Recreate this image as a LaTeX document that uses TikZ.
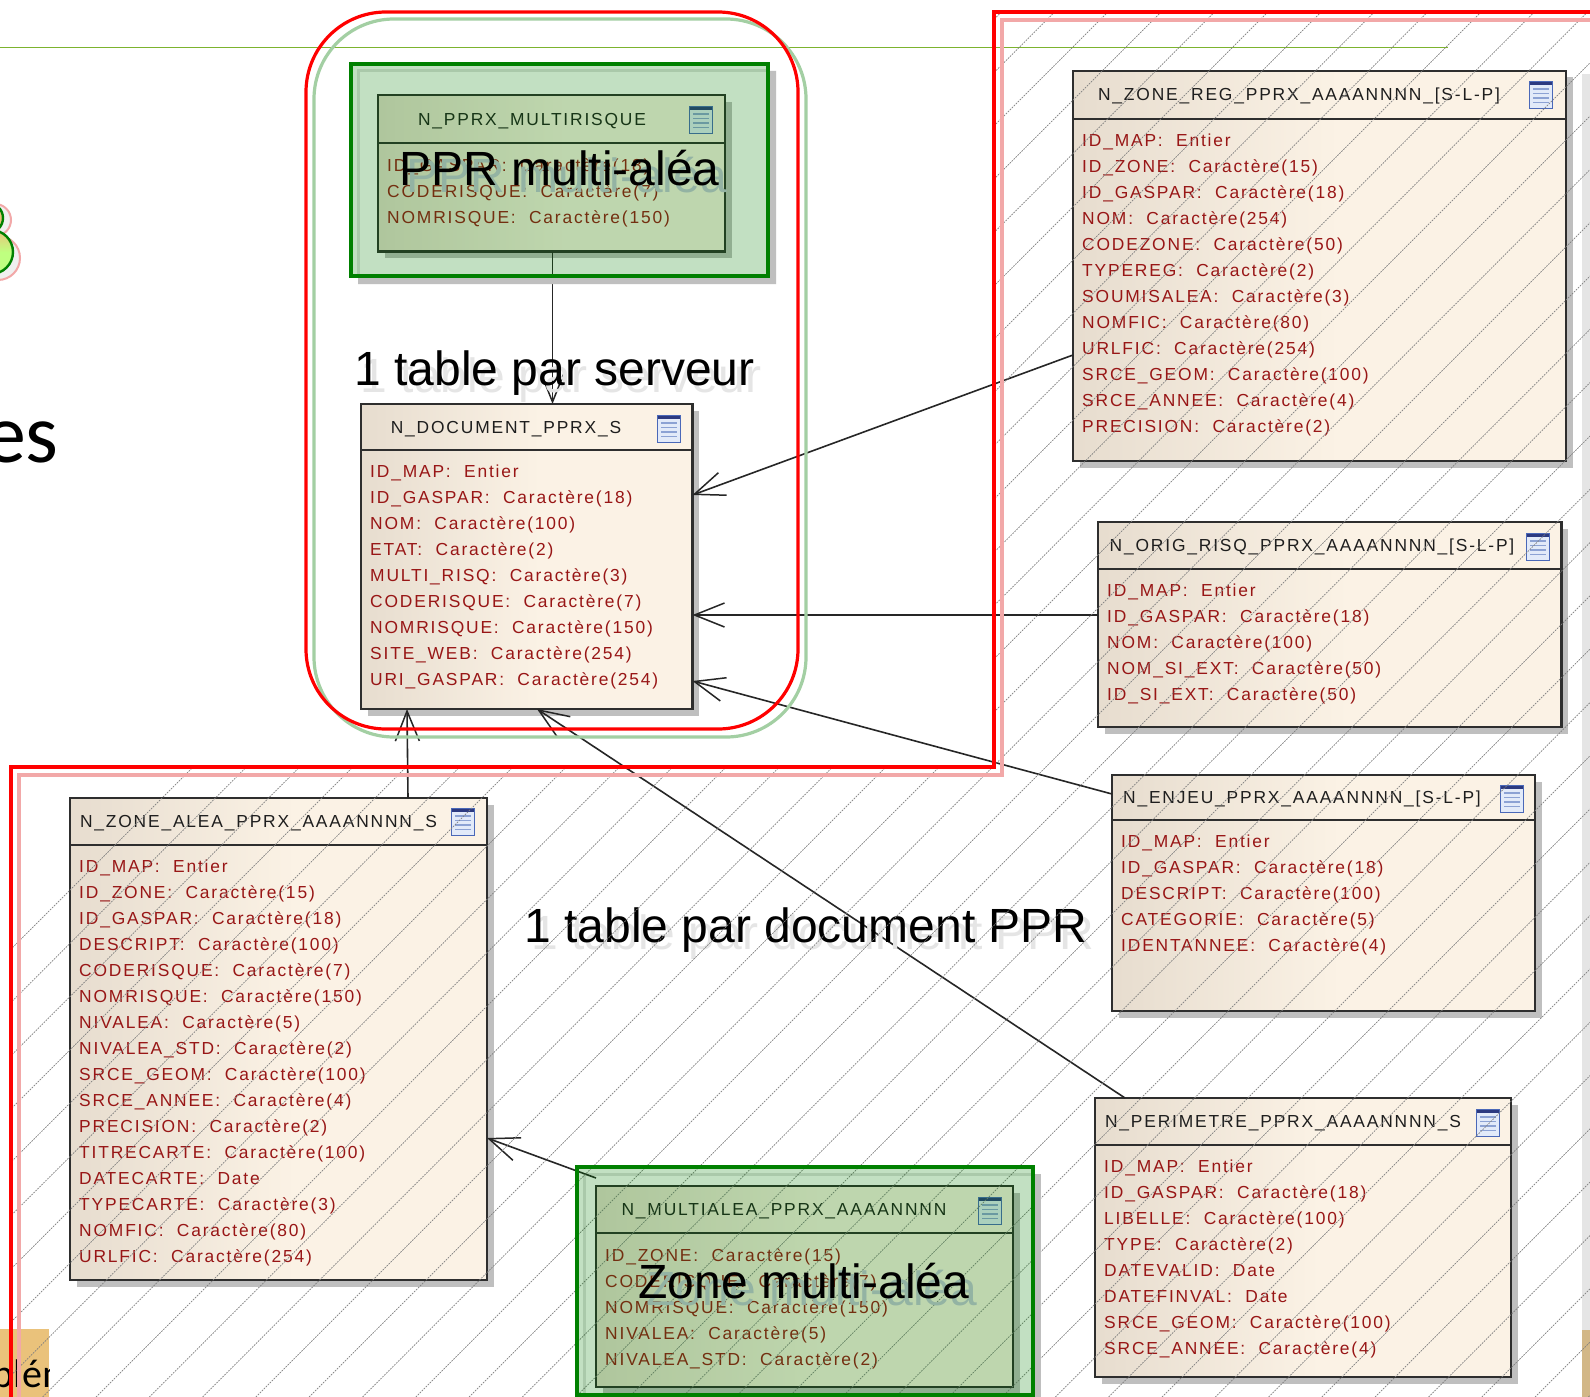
\documentclass[tikz,border=0pt]{standalone}
\usepackage{fontspec}
\usetikzlibrary{arrows.meta,shadows,calc}
\setmainfont{Liberation Sans}
\newfontfamily\tblfont[LetterSpace=10.5]{Liberation Sans}
\newfontfamily\slidefont{Carlito}
\definecolor{rowred}{HTML}{981616}
\definecolor{ttl}{HTML}{1E1E1E}
\definecolor{redline}{HTML}{FF0000}
\definecolor{palered}{HTML}{F2A8A8}
\definecolor{palegreen}{HTML}{A3CFA3}
\definecolor{ovgreen}{HTML}{008000}
\definecolor{hline}{HTML}{7CB32E}
\definecolor{orangebox}{HTML}{EAC27B}
\definecolor{ovshadow}{HTML}{93B3A3}
\definecolor{iconline}{HTML}{8CA2D4}
\definecolor{iconframe}{HTML}{4A68B8}
\definecolor{iconbar}{HTML}{2C3A80}
\definecolor{iconfill}{HTML}{E2EAF9}
\pgfdeclarehorizontalshading{tshade}{100bp}{rgb(0bp)=(0.905,0.865,0.81);rgb(25bp)=(0.905,0.865,0.81);rgb(52bp)=(0.984,0.949,0.898);rgb(100bp)=(0.984,0.949,0.898)}
\tikzset{
  x=1pt,y=-1pt,
  tblbox/.style={draw=black!82,line width=2.1pt,shading=tshade,inner sep=0pt,outer sep=0pt,
     drop shadow={shadow xshift=6.5pt,shadow yshift=-6.5pt,fill=black!25,opacity=1}},
  ttltext/.style={text=ttl,font=\tblfont\fontsize{17.4}{17.4}\selectfont,anchor=base,inner sep=0pt},
  rowtext/.style={text=rowred,font=\tblfont\fontsize{17.4}{26}\selectfont,anchor=north west,align=left,inner sep=0pt},
  bigtext/.style={text=black,font=\fontsize{48}{48}\selectfont,anchor=base,inner sep=0pt},
  shadowtext/.style={bigtext,text=#1},
  conn/.style={draw=black!85,line width=1.6pt,-{Straight Barb[length=30pt,width=24pt,line width=1.5pt]}},
  hatchline/.style={draw=black!50,line width=.7pt,dash pattern=on 1.7pt off 1.1pt},
}
\newcommand{\dbtable}[9]{% name L T R B H titlecx title rows
  \node[tblbox,minimum width={(#4-#2)*1pt},minimum height={(#5-#3)*1pt},anchor=north west] (#1) at (#2,#3) {};
  \draw[black!82,line width=1.9pt] (#2,#6) -- (#4,#6);
  \node[ttltext] (#1title) at (#7,{(#3+#6)/2+6}) {#8};
  \node[rowtext] (#1rows) at ({#2+9},{#6+15}) {#9};
}
\newcommand{\tblicon}[2]{% centre
  \begin{scope}[shift={(#1,#2)}]
    \fill[iconfill] (-11.5,-13.5) rectangle (11.5,13.5);
    \fill[iconbar] (-11.5,-13.5) rectangle (11.5,-10);
    \foreach \yy in {-6,-1.5,3,7.5}{\draw[iconline,line width=1.3pt] (-8,\yy) -- (8,\yy);}
    \draw[iconframe,line width=1.6pt] (-11.5,-13.5) rectangle (11.5,13.5);
  \end{scope}
}
\begin{document}
\begin{tikzpicture}
\useasboundingbox (0,0) rectangle (1590,1397);
\fill[white] (0,0) rectangle (1590,1397);
% slide background remnants
\draw[hline,line width=1pt] (0,48) -- (1448,48);
\fill[orangebox] (0,1329) rectangle (49,1397);
\begin{scope}
 \clip (0,1329) rectangle (49,1397);
 \node[anchor=base west,inner sep=0pt,font=\slidefont\fontsize{40}{40}\selectfont] (orangetext) at (-8,1387) {blém};
\end{scope}
\fill[black!10] (1582,74) rectangle (1590,1330);
\fill[orangebox!85!black!80!white] (1582,1330) rectangle (1590,1397);
\node[anchor=base east,inner sep=0pt,font=\slidefont\fontsize{84}{84}\selectfont] (estext) at (59,462) {es};
% circles
\draw[palered,fill=black!6,line width=2pt] (-5,220) circle (16);
\draw[palered,fill=black!6,line width=2pt] (-2,258) circle (22);
\draw[ovgreen,line width=2.4pt,fill=orangebox] (-12,218) circle (15);
\draw[ovgreen,line width=2.4pt,top color=orangebox,bottom color=yellow!50!green!50!white,middle color=yellow!50!green!50!white] (-9,252) circle (22);
% tables
\dbtable{multi}{378}{95}{725}{251.5}{143}{532}{N\_PPRX\_MULTIRISQUE}{ID\_GASPAR:\ \ Caractère(18)\\CODERISQUE:\ \ Caractère(7)\\NOMRISQUE:\ \ Caractère(150)}
\dbtable{doc}{361}{404}{692.5}{709}{450}{506}{N\_DOCUMENT\_PPRX\_S}{ID\_MAP:\ \ Entier\\ID\_GASPAR:\ \ Caractère(18)\\NOM:\ \ Caractère(100)\\ETAT:\ \ Caractère(2)\\MULTI\_RISQ:\ \ Caractère(3)\\CODERISQUE:\ \ Caractère(7)\\NOMRISQUE:\ \ Caractère(150)\\SITE\_WEB:\ \ Caractère(254)\\URI\_GASPAR:\ \ Caractère(254)}
\dbtable{zreg}{1073}{71}{1566}{461}{118.6}{1299}{N\_ZONE\_REG\_PPRX\_AAAANNNN\_[S-L-P]}{ID\_MAP:\ \ Entier\\ID\_ZONE:\ \ Caractère(15)\\ID\_GASPAR:\ \ Caractère(18)\\NOM:\ \ Caractère(254)\\CODEZONE:\ \ Caractère(50)\\TYPEREG:\ \ Caractère(2)\\SOUMISALEA:\ \ Caractère(3)\\NOMFIC:\ \ Caractère(80)\\URLFIC:\ \ Caractère(254)\\SRCE\_GEOM:\ \ Caractère(100)\\SRCE\_ANNEE:\ \ Caractère(4)\\PRECISION:\ \ Caractère(2)}
\dbtable{orig}{1098}{522}{1561.5}{727}{569}{1312}{N\_ORIG\_RISQ\_PPRX\_AAAANNNN\_[S-L-P]}{ID\_MAP:\ \ Entier\\ID\_GASPAR:\ \ Caractère(18)\\NOM:\ \ Caractère(100)\\NOM\_SI\_EXT:\ \ Caractère(50)\\ID\_SI\_EXT:\ \ Caractère(50)}
\dbtable{enjeu}{1112}{775}{1535}{1011}{820}{1302}{N\_ENJEU\_PPRX\_AAAANNNN\_[S-L-P]}{ID\_MAP:\ \ Entier\\ID\_GASPAR:\ \ Caractère(18)\\DESCRIPT:\ \ Caractère(100)\\CATEGORIE:\ \ Caractère(5)\\IDENTANNEE:\ \ Caractère(4)}
\dbtable{perim}{1095}{1098}{1511}{1377}{1145}{1283}{N\_PERIMETRE\_PPRX\_AAAANNNN\_S}{ID\_MAP:\ \ Entier\\ID\_GASPAR:\ \ Caractère(18)\\LIBELLE:\ \ Caractère(100)\\TYPE:\ \ Caractère(2)\\DATEVALID:\ \ Date\\DATEFINVAL:\ \ Date\\SRCE\_GEOM:\ \ Caractère(100)\\SRCE\_ANNEE:\ \ Caractère(4)}
\dbtable{alea}{70}{798}{487}{1280}{845}{258.5}{N\_ZONE\_ALEA\_PPRX\_AAAANNNN\_S}{ID\_MAP:\ \ Entier\\ID\_ZONE:\ \ Caractère(15)\\ID\_GASPAR:\ \ Caractère(18)\\DESCRIPT:\ \ Caractère(100)\\CODERISQUE:\ \ Caractère(7)\\NOMRISQUE:\ \ Caractère(150)\\NIVALEA:\ \ Caractère(5)\\NIVALEA\_STD:\ \ Caractère(2)\\SRCE\_GEOM:\ \ Caractère(100)\\SRCE\_ANNEE:\ \ Caractère(4)\\PRECISION:\ \ Caractère(2)\\TITRECARTE:\ \ Caractère(100)\\DATECARTE:\ \ Date\\TYPECARTE:\ \ Caractère(3)\\NOMFIC:\ \ Caractère(80)\\URLFIC:\ \ Caractère(254)}
\dbtable{malea}{596}{1186}{1013}{1387}{1233}{784}{N\_MULTIALEA\_PPRX\_AAAANNNN}{ID\_ZONE:\ \ Caractère(15)\\CODERISQUE:\ \ Caractère(7)\\NOMRISQUE:\ \ Caractère(150)\\NIVALEA:\ \ Caractère(5)\\NIVALEA\_STD:\ \ Caractère(2)}
% icons
\tblicon{701}{120}\tblicon{669}{429}\tblicon{1541}{95}\tblicon{1538}{547}\tblicon{1512}{799}\tblicon{1488}{1123}\tblicon{463}{822}\tblicon{990}{1211}
% connectors
\draw[conn] ([xshift=174.5pt]multi.south west) -- ([xshift=191.5pt]doc.north west);
\draw[conn] ([yshift=-284pt]zreg.north west) -- ([yshift=-91pt]doc.north east);
\draw[conn] ([yshift=-93pt]orig.north west) -- ([yshift=-211pt]doc.north east);
\draw[conn] ([yshift=-19pt]enjeu.north west) -- ([yshift=-277pt]doc.north east);
\draw[conn] ([xshift=30pt]perim.north west) -- ([xshift=176pt]doc.south west);
\draw[conn] ([xshift=338pt]alea.north west) -- ([xshift=46pt]doc.south west);
\draw[conn] ([yshift=8pt]malea.north west) -- ([yshift=-340pt]alea.north east);
% big text shadows + text
\node[shadowtext=black!10] (s1s) at (561,392) {1 table par serveur};
\node[bigtext] (s1) at (554.5,385) {1 table par serveur};
\node[shadowtext=black!10] (s2s) at (813,949) {1 table par document PPR};
\node[bigtext] (s2) at (806,942) {1 table par document PPR};
% hatched area
\begin{scope}
  \clip (994,12) -- (1590,12) -- (1590,1397) -- (11,1397) -- (11,767) -- (994,767) -- cycle;
  \foreach \k in {-10,...,29}{
    \pgfmathsetmacro{\cc}{1493+53.3*\k}
    \draw[hatchline] ({\cc},0) -- ({\cc-1400},1400);
  }
\end{scope}
% overlays: round rect
\draw[palegreen,line width=3.2pt,rounded corners=80pt] (314,19) rectangle (806,737);
\draw[redline,line width=3.2pt,rounded corners=80pt] (306,12) rectangle (798,729);
% overlays: polygon
\draw[palered,line width=3.4pt] (1590,20) -- (1002,20) -- (1002,775) -- (19,775) -- (19,1397);
\draw[redline,line width=3.2pt] (1590,12) -- (994,12) -- (994,767) -- (11,767) -- (11,1397);
% green overlays
\fill[black!25] (768,71) rectangle (776,284) (358,276) rectangle (768,284);
\draw[black,draw opacity=.12,line width=3pt] (358,276) -- (358,71) -- (768,71);
\fill[ovgreen,fill opacity=.24] (351,64) rectangle (768,276);
\draw[ovgreen,line width=3.2pt] (351,64) rectangle (768,276);
\node[shadowtext=ovshadow] (t1s) at (567,192) {PPR multi-aléa};
\node[bigtext] (t1) at (559.5,185) {PPR multi-aléa};
\fill[black!25] (1033,1174) rectangle (1041,1397);
\draw[black,draw opacity=.12,line width=3pt] (584,1397) -- (584,1174) -- (1033,1174);
\fill[ovgreen,fill opacity=.24] (577,1167) rectangle (1033,1395);
\draw[ovgreen,line width=3.2pt] (577,1167) rectangle (1033,1395);
\node[shadowtext=ovshadow] (t2s) at (812,1305) {Zone multi-aléa};
\node[bigtext] (t2) at (804,1298) {Zone multi-aléa};
\end{tikzpicture}
\end{document}
